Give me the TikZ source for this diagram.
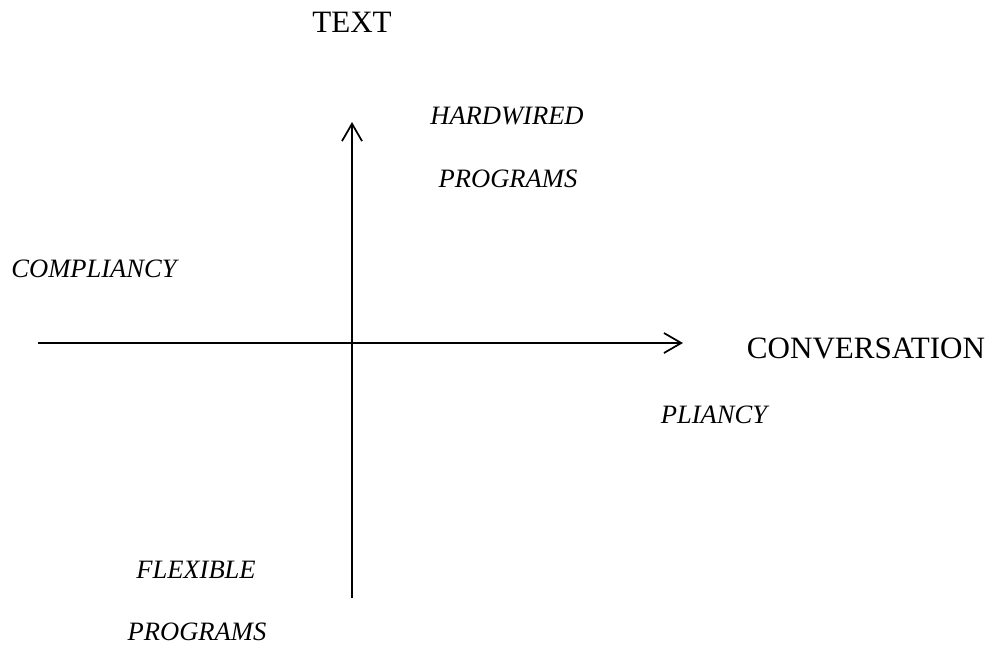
\documentclass[tikz,border=0pt]{standalone}
\usepackage{fontspec}
\setmainfont{Liberation Serif}
\usetikzlibrary{arrows.meta}
\tikzset{
  axis/.style={line width=1.3pt, -{Straight Barb[length=13pt,width=15pt,line width=1.3pt]}},
  uplabel/.style={anchor=base, inner sep=0pt, font=\fontsize{23.3pt}{28pt}\selectfont},
  itlabel/.style={anchor=base, inner sep=0pt, font=\fontsize{19.9pt}{24pt}\selectfont\itshape},
}
\begin{document}
\begin{tikzpicture}[x=0.75pt,y=-0.75pt]
\useasboundingbox (0,0) rectangle (998,647);
\coordinate (vtop) at (352,122);
\coordinate (vbot) at (352,598);
\coordinate (hleft) at (38,343);
\coordinate (hright) at (683,343);
\draw[axis] (vbot) -- (vtop);
\draw[axis] (hleft) -- (hright);
\node[uplabel] (text) at (352,32) {TEXT};
\node[uplabel] (conv) at (866,358) {CONVERSATION};
\node[itlabel] (hard) at (507,124) {HARDWIRED};
\node[itlabel] (prog1) at (508,187) {PROGRAMS};
\node[itlabel] (compl) at (94,277) {COMPLIANCY};
\node[itlabel] (pli) at (714,423) {PLIANCY};
\node[itlabel] (flex) at (196,578) {FLEXIBLE};
\node[itlabel] (prog2) at (197,640) {PROGRAMS};
\end{tikzpicture}
\end{document}
